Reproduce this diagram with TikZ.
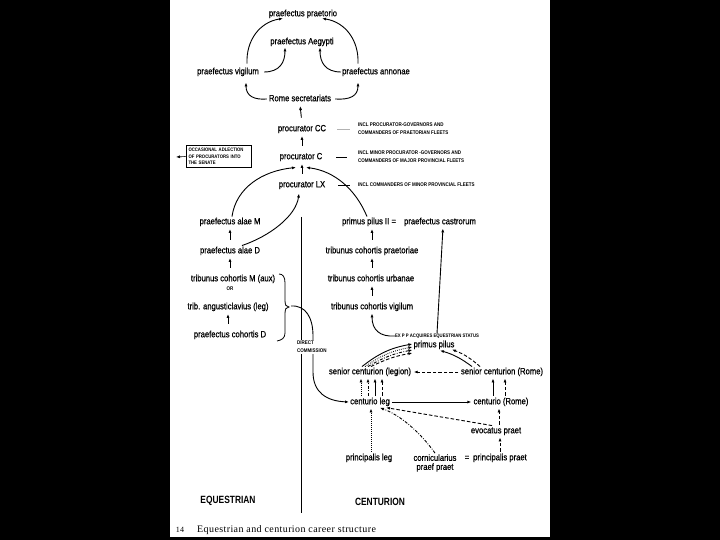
\documentclass[tikz,border=0pt]{standalone}
\usepackage{fontspec}
\setmainfont{Liberation Sans}
\newfontfamily\cond{Liberation Sans}[FakeStretch=0.85,FakeBold=0.6]
\newfontfamily\condn{Liberation Sans}[FakeStretch=0.85]
\newfontfamily\headf{Liberation Sans}[FakeStretch=0.8]
\newfontfamily\capf{Liberation Serif}[LetterSpace=4]
\usetikzlibrary{arrows.meta,calc}
\begin{document}
\begin{tikzpicture}[x=1pt,y=-1pt,
  lab/.style={font=\cond\fontsize{9}{10}\selectfont, inner sep=1pt, text height=6.5pt, text depth=2pt},
  note/.style={font=\condn\bfseries\fontsize{5.3}{8}\selectfont, align=left, inner sep=0pt},
  arr/.style={-{Latex[length=4pt,width=3pt]}, line width=0.9pt},
  up/.style={arr, shorten <=6pt, shorten >=1.5pt},
  vup/.style={arr, shorten <=1pt, shorten >=1pt},
  dashl/.style={dash pattern=on 3.5pt off 2pt},
  dotl/.style={dash pattern=on 0.8pt off 1.2pt},
  ddot/.style={dash pattern=on 3pt off 1.5pt on 0.8pt off 1.5pt},
  head/.style={font=\headf\bfseries\fontsize{10.5}{12}\selectfont, inner sep=0pt}
]
\useasboundingbox (0,0) rectangle (720,540);
\fill[black] (0,0) rectangle (720,540);
\fill[white] (170,0) rectangle (550,537);

% ---- top cycle
\node[lab] (prae) at (303,14) {praefectus praetorio};
\node[lab] (aeg) at (302,42) {praefectus Aegypti};
\node[lab] (vig) at (228,72) {praefectus vigilum};
\node[lab] (ann) at (376,72) {praefectus annonae};
\node[lab] (rome) at (300,99) {Rome secretariats};

\draw[arr] ([xshift=19pt,yshift=3pt]vig.north) .. controls (246,40) and (260,22) .. ([xshift=-20pt,yshift=1pt]prae.south);
\draw[arr] ([xshift=-18pt,yshift=3pt]ann.north) .. controls (359,40) and (345,22) .. ([xshift=19pt,yshift=1pt]prae.south);
\draw[arr] ([xshift=4pt]vig.east) .. controls (280,72) and (285,62) .. ([xshift=-17pt]aeg.south);
\draw[arr] (ann.west) .. controls (325,72) and (320,62) .. ([xshift=18pt]aeg.south);
\draw[arr] ([xshift=-1pt]rome.west) .. controls (254,100) and (246,96) .. ([xshift=18pt,yshift=-5pt]vig.south);
\draw[arr] ([xshift=3pt]rome.east) .. controls (350,100) and (358,96) .. ([xshift=-18pt,yshift=-5pt]ann.south);

% ---- procurators
\node[lab] (cc) at (302,129) {procurator CC};
\node[lab] (pC) at (301,157) {procurator C};
\node[lab] (lx) at (302,185) {procurator LX};
\node[note,anchor=west] (ncc) at (358,129) {INCL PROCURATOR-GOVERNORS AND\\COMMANDERS OF PRAETORIAN FLEETS};
\node[note,anchor=west] (nc) at (358,157) {INCL MINOR PROCURATOR -GOVERNORS AND\\COMMANDERS OF MAJOR PROVINCIAL FLEETS};
\node[note,anchor=west] (nlx) at (358,185) {INCL COMMANDERS OF MINOR PROVINCIAL FLEETS};
\draw[gray!60,line width=0.5pt,shorten <=10pt,shorten >=8pt] (cc.east) -- (ncc.west);
\draw[line width=0.7pt,shorten <=13pt,shorten >=11pt] (pC.east) -- (nc.west);
\draw[line width=0.5pt,shorten <=12pt,shorten >=8pt] (lx.east) -- (nlx.west);

\draw[up] (cc.north) -- (rome.south);
\draw[up] (cc.south |- pC.north) -- (cc.south);
\draw[up] (lx.north) -- (lx.north |- pC.south);

\node[note,draw,line width=0.6pt,inner sep=2.5pt,text width=60pt,font=\condn\bfseries\fontsize{5}{6.5}\selectfont] (adl) at (218.5,156.5) {OCCASIONAL ADLECTION\\OF PROCURATORS INTO\\THE SENATE};
\coordinate (adlend) at (176,157);
\draw[arr,line width=0.6pt] (adl.west) -- (adlend);

% ---- equestrian column
\node[lab] (alm) at (230,222) {praefectus alae M};
\node[lab] (ald) at (230,251) {praefectus alae D};
\node[lab] (tcm) at (233,279) {tribunus cohortis M (aux)};
\node[note] (or) at (230,289) {OR};
\node[lab] (tang) at (228,307) {trib. angusticlavius (leg)};
\node[lab] (pcd) at (230,335) {praefectus cohortis D};
\draw[up] (ald.north) -- (alm.south);
\draw[up] (ald.south |- tcm.north) -- (ald.south);
\draw[up] (pcd.north -| tang.south) -- (tang.south);

\draw[line width=0.8pt] (279,274) .. controls (283,274) and (285,277) .. (285,283) -- (285,300) .. controls (285,305) and (286,307) .. (289,307) .. controls (286,307) and (285,309) .. (285,314) -- (285,333) .. controls (285,338) and (282,340) .. (277,341);
\coordinate (bt) at (291,306);

% ---- arcs into procurators
\draw[arr] ([xshift=2pt]alm.north) .. controls (236,188) and (262,171) .. ([xshift=-5pt,yshift=-5pt]pC.south);
\node[lab] (pp2) at (369,222) {primus pilus II =};
\node[lab] (pcas) at (440,222) {praefectus castrorum};
\draw[arr] ([xshift=-2pt]pp2.north) .. controls (356,190) and (335,171) .. ([xshift=5pt,yshift=-5pt]pC.south);
\draw[arr] ([xshift=12pt]ald.north) .. controls (270,236) and (296,216) .. ([xshift=-3pt,yshift=-3pt]lx.south);

% ---- divider
\coordinate (dtop) at (301,217);
\coordinate (dbot) at (301,513);
\draw[line width=0.9pt] (dtop) -- (dbot);

% ---- centurion column
\node[lab] (tpr) at (372,251) {tribunus cohortis praetoriae};
\node[lab] (turb) at (371,279) {tribunus cohortis urbanae};
\node[lab] (tvig) at (372,307) {tribunus cohortis vigilum};
\draw[up] (tpr.north) -- (tpr.north |- pp2.south);
\draw[up] (tpr.south |- turb.north) -- (tpr.south);
\draw[up] (tvig.north) -- (tvig.north |- turb.south);

\node[note,font=\condn\bfseries\fontsize{5}{6}\selectfont] (exp) at (437,336) {EX P P ACQUIRES EQUESTRIAN STATUS};
\node[lab] (pp) at (434,345) {primus pilus};
\draw[arr,shorten >=1pt] (exp.west) .. controls (380,337) and (372,330) .. (tvig.south);
\draw[arr,shorten >=1pt] ([xshift=0pt]exp.north) -- ([xshift=3pt]pcas.south);

\node[lab] (scl) at (370,372) {senior centurion (legion)};
\node[lab] (scr) at (502,372) {senior centurion (Rome)};
\node[lab] (cl) at (370,402) {centurio leg};
\node[lab] (cr) at (501,402) {centurio (Rome)};
\node[lab] (ev) at (496,431) {evocatus praet};
\node[lab] (pl) at (369,458) {principalis leg};
\node[font=\cond\fontsize{9}{9}\selectfont, align=center, inner sep=1pt] (corn) at (435,463) {cornicularius\\praef praet};
\node[lab] (eq) at (467,458) {=};
\node[lab] (ppr) at (500,458) {principalis praet};

% senior legion -> primus pilus
\draw[arr] ([xshift=-8pt]scl.north) to[bend left=14] ([yshift=1pt]pp.west);
\draw[arr,dotl] ([xshift=-5pt]scl.north) to[bend left=12] ([yshift=-2pt]pp.west);
\draw[arr,ddot] ([xshift=-2pt]scl.north) to[bend left=10] ([yshift=-5pt]pp.west);
\draw[arr,dashl] ([xshift=1pt]scl.north) to[bend left=8] ([yshift=-8pt]pp.west);
% senior Rome -> primus pilus
\draw[arr] ([xshift=-30pt]scr.north) to[bend right=10] ([xshift=6pt]pp.south);
\draw[arr,dashl] ([xshift=-22pt]scr.north) to[bend right=10] ([xshift=18pt,yshift=1pt]pp.south);
% senior Rome -> senior legion
\draw[arr,dashl,shorten <=1.5pt,shorten >=1.5pt] (scr.west) -- (scl.east);
% centurio leg -> centurio Rome
\draw[arr,shorten <=1pt,shorten >=1pt] (cl.east) -- (cr.west);
% centurio leg -> senior legion
\draw[vup,dotl] ([xshift=-9pt]cl.north) -- ([xshift=-9pt]cl.north |- scl.south);
\draw[vup,ddot] ([xshift=-2pt]cl.north) -- ([xshift=-2pt]cl.north |- scl.south);
\draw[vup] ([xshift=5pt]cl.north) -- ([xshift=5pt]cl.north |- scl.south);
\draw[vup,dashl] ([xshift=12pt]cl.north) -- ([xshift=12pt]cl.north |- scl.south);
% centurio Rome -> senior Rome
\draw[vup] ([xshift=-8pt]cr.north) -- ([xshift=-8pt]cr.north |- scr.south);
\draw[vup,dashl] ([xshift=4pt]cr.north) -- ([xshift=4pt]cr.north |- scr.south);
% evocatus
\draw[vup,dashl] ([xshift=3pt]ev.north) -- ([xshift=3pt]ev.north |- cr.south);
\draw[arr,dashl,shorten >=1pt] ([xshift=-4pt]ev.north) -- ([xshift=-6pt]cl.south east);
\draw[vup,dashl] (ppr.north) -- (ppr.north |- ev.south);
% principalis leg, cornicularius
\draw[vup,dotl] ([xshift=2pt]pl.north) -- ([xshift=2pt]pl.north |- cl.south);
\draw[arr,ddot,shorten >=1pt] (corn.north) .. controls (420,432) and (400,415) .. ([xshift=-12pt]cl.south east);

% direct commission
\draw[arr] (bt) .. controls (306,305) and (313,318) .. (313,336) -- (313,372) .. controls (313,392) and (326,401) .. (cl.west);
\node[note,fill=white,inner sep=1pt,anchor=west] (dc) at (296,347) {DIRECT\\COMMISSION};

% headings and caption
\node[head] (equ) at (228,501) {EQUESTRIAN};
\node[head] (cen) at (380,502) {CENTURION};
\node[font=\capf\fontsize{8}{10}\selectfont, anchor=base] (num) at (180,532) {14};
\node[font=\capf\fontsize{10}{12}\selectfont, anchor=base west, inner sep=0pt] (cap) at (197,532) {Equestrian and centurion career structure};
\end{tikzpicture}
\end{document}
